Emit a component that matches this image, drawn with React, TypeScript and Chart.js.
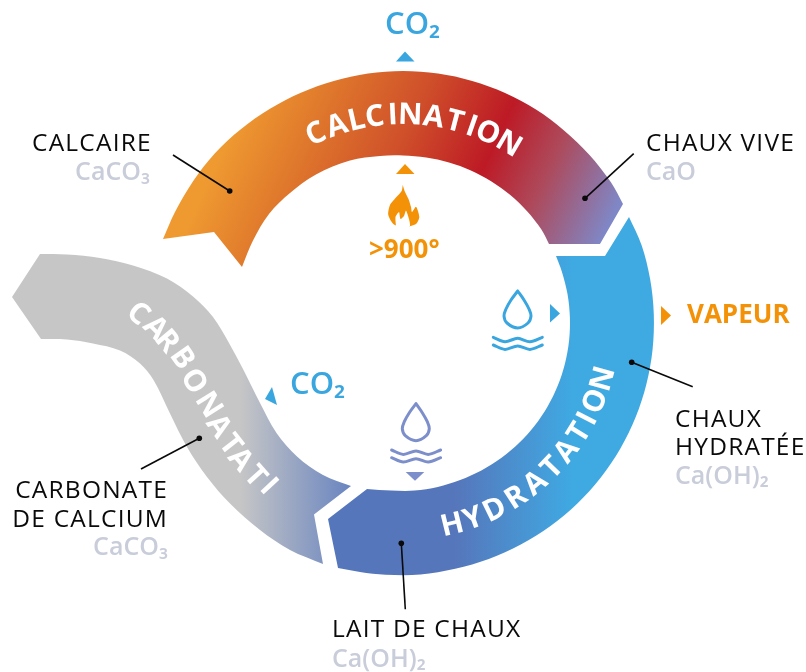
import React, { useEffect, useRef } from "react";
import { Chart, registerables } from "chart.js";

Chart.register(...registerables);

type P = [number, number];

// ---- Outline edges (shared end points keep the corners sharp)
const calcTail: P[] = [[163, 239], [214, 232]];
const calcNotch: P[] = [[214, 232], [242, 267]];
const calcInner: P[] = [[242, 267], [253, 240.5], [269, 214], [290, 193], [316, 174.5], [350, 160.5], [380, 156], [403, 155.5], [426.2, 157.6], [449, 162.5], [470.9, 170.4], [491.5, 181.4], [510.3, 195.1], [527.1, 211.3], [541.4, 229.6], [549, 244]];
const calcFoot: P[] = [[549, 244], [600, 244]];
const calcSide: P[] = [[600, 244], [623, 204]];
const calcOuter: P[] = [[623, 204], [611.1, 182.6], [589.5, 155.1], [564.3, 130.7], [536, 109.6], [505.1, 93], [472.2, 81], [438, 73.6], [403, 71], [368, 73.6], [333.8, 81], [300.9, 92.7], [270, 108.8], [240.5, 129.5], [214.7, 153.5], [192.9, 181.5], [175, 212], [163, 239]];

const hydrTip: P[] = [[629, 217], [605, 256]];
const hydrTop: P[] = [[605, 256], [556, 256]];
const hydrInner: P[] = [[556, 256], [561.8, 271.4], [567.5, 294], [569.9, 317.2], [569.1, 340.5], [565, 363.4], [557.8, 385.6], [547.6, 406.5], [534.6, 425.8], [519, 443.1], [501.2, 458.1], [481.4, 470.4], [460.1, 479.9], [437.7, 486.9], [414.6, 490.6], [391.4, 490.6], [367, 489]];
const hydrNotchA: P[] = [[367, 489], [328, 519]];
const hydrNotchB: P[] = [[328, 519], [338, 568]];
const hydrOuter: P[] = [[338, 568], [360, 572], [385.5, 574.8], [420.5, 574.6], [455.2, 568.8], [488.8, 559], [520.8, 544.6], [550.5, 526.1], [577.4, 503.5], [600.8, 477.5], [620.4, 448.5], [635.7, 417], [646.5, 383.7], [652.6, 349.2], [653.8, 314.2], [650.2, 279.4], [641.7, 245.4], [629, 217]];

const carbTailA: P[] = [[41, 339], [12, 297]];
const carbTailB: P[] = [[12, 297], [40, 254]];
const carbUpper: P[] = [[40, 254], [67, 254.5], [100, 258], [133, 265.5], [167, 278.5], [193, 296.5], [213, 317], [229, 343], [243.5, 370], [260, 403], [276.5, 433], [297, 456.5], [323, 475], [351, 486]];
const carbNotchA: P[] = [[351, 486], [314, 514.5]];
const carbNotchB: P[] = [[314, 514.5], [323, 564]];
const carbLower: P[] = [[323, 564], [290, 550], [260, 530], [230, 503.5], [207, 477], [187, 447], [170, 413.5], [153.5, 380], [140, 363.5], [120, 350.5], [93, 343.5], [67, 339.5], [41, 339]];

const flameOuter: P[] = [[402.7, 185], [405, 192], [408.5, 199], [411, 207], [412, 212], [416, 206.7], [419.3, 217], [416, 224], [405, 227], [394, 224.5], [388.3, 215], [390, 205], [396.7, 196.7], [401.7, 191], [402.7, 185]];
const flameInner: P[] = [[396, 226], [395.5, 217], [399, 212], [400.5, 219], [404, 216], [406, 210.5], [409, 219], [410, 226], [405, 229], [396, 226]];

const dropBlue: P[] = [[517.7, 291], [524, 300], [529, 309], [531, 316], [528, 323], [517.7, 328], [507, 323], [504, 316], [506, 309], [511, 300], [517.7, 291]];
const waveBlueA: P[] = [[493.3, 337.3], [505, 341.7], [517.7, 338.3], [530, 341.7], [542.3, 337.3]];
const waveBlueB: P[] = [[493.3, 345], [505, 349.4], [517.7, 346], [530, 349.4], [542.3, 345]];
const dropIndigo: P[] = [[416, 403.7], [422.3, 412.7], [427.3, 421.7], [429.3, 428.7], [426.3, 435.7], [416, 440.7], [405.3, 435.7], [402.3, 428.7], [404.3, 421.7], [409.3, 412.7], [416, 403.7]];
const waveIndigoA: P[] = [[391.6, 450], [403.3, 454.4], [416, 451], [428.3, 454.4], [440.6, 450]];
const waveIndigoB: P[] = [[391.6, 457.7], [403.3, 462.1], [416, 458.7], [428.3, 462.1], [440.6, 457.7]];

const triangles: { pts: P[]; color: string }[] = [
  { pts: [[396, 61.5], [405, 51.5], [414.5, 61.5], [396, 61.5]], color: "#3aa6df" },
  { pts: [[396, 174], [405, 164], [414.5, 174], [396, 174]], color: "#f39207" },
  { pts: [[550, 304], [560, 313.5], [550, 322.5], [550, 304]], color: "#3aa6df" },
  { pts: [[661, 306], [671, 315.5], [661, 325], [661, 306]], color: "#f39207" },
  { pts: [[272, 387], [265, 399], [277, 405], [272, 387]], color: "#3aa6df" },
  { pts: [[405.7, 472], [424.3, 472], [415, 480.7], [405.7, 472]], color: "#7d8fcb" },
];

const leaders: P[][] = [
  [[173, 155], [229.7, 191]],
  [[633.7, 153.7], [585, 198.3]],
  [[692.7, 386.7], [631.7, 362.3]],
  [[405.3, 609.3], [401.3, 543.3]],
  [[141, 469], [199.3, 438.3]],
];

// ---- Plain labels
const labelText = ["CALCAIRE", "CaCO₃", "CHAUX VIVE", "CaO", "CHAUX", "HYDRATÉE", "Ca(OH)₂", "LAIT DE CHAUX", "Ca(OH)₂", "CARBONATE", "DE CALCIUM", "CaCO₃"];
const labelX = [32, 150, 646, 646, 675, 675, 675, 332, 332, 168, 168, 168];
const labelY = [151, 180, 151, 180, 427, 455, 484, 637, 667, 498, 527, 555];
const labelAlign = ["left", "right", "left", "left", "left", "left", "left", "left", "left", "right", "right", "right"];
const labelGrey = [false, true, false, true, false, false, true, false, true, false, false, true];

const accentText = ["CO₂", "CO₂", "VAPEUR", ">900°"];
const accentX = [385, 290, 687, 369];
const accentY = [34, 394, 323, 258];
const accentSize = [31, 31, 26, 26];
const accentWeight = [600, 600, 700, 700];
const accentColor = ["#3aa6df", "#3aa6df", "#f39207", "#f39207"];

// ---- Words that follow the ring: angle clockwise from the top, for every letter
const calcWord = "CALCINATION";
const calcAngles = [-24.7, -18.5, -12.9, -7.8, -2.8, 2, 8.4, 14.4, 19.2, 24, 30.5];
const hydrWord = "HYDRATATION";
const hydrAngles = [166.3, 160.2, 153.8, 147, 140.3, 134, 127.9, 121.8, 117.3, 112, 105.5];
const carbWord = "CARBONATATI";
const carbX = [137.7, 155, 166.7, 181.7, 193.3, 208.3, 218.3, 230, 240, 255, 268.3];
const carbY = [314, 328.3, 341.7, 358.3, 381.7, 405, 426.7, 445, 460, 476.7, 486.7];
const carbRot = [42, 45, 50, 55, 58, 58, 55, 52, 50, 48, 47];

const ringCentre: P = [403, 323.5];
const ringRadius = 208;
const FONT = '"Open Sans"';

const xy = (pts: P[]) => pts.map(([x, y]) => ({ x, y }));

function gradient(stops: [number, string][], x0: number, y0: number, x1: number, y1: number) {
  return (c: any) => {
    const { ctx, width, height } = c.chart;
    const kx = width / 806;
    const ky = height / 672;
    const g = ctx.createLinearGradient(x0 * kx, y0 * ky, x1 * kx, y1 * ky);
    stops.forEach(([t, col]) => g.addColorStop(t, col));
    return g;
  };
}

const calcStops: [number, string][] = [[0, "#ef9a31"], [0.18, "#e07a2c"], [0.42, "#cf4f2a"], [0.64, "#bd1a25"], [0.8, "#ad4a5c"], [1, "#7f87c6"]];
const hydrStops: [number, string][] = [[0, "#5676bb"], [1, "#3fa9e2"]];
const carbStops: [number, string][] = [[0, "#c6c6c6"], [1, "#5d7cbf"]];

const shape = (pts: P[], backgroundColor: any, tension = 0.33) => ({
  data: xy(pts), showLine: true, fill: "shape" as const, backgroundColor, borderWidth: 0, pointRadius: 0, tension,
});
const stroke = (pts: P[], borderColor: string, tension = 0.33, borderWidth = 3) => ({
  data: xy(pts), showLine: true, fill: false, borderColor, borderWidth, pointRadius: 0, tension, borderCapStyle: "round" as const,
});

const textPlugin = {
  id: "cycleText",
  afterDraw(chart: any) {
    const { ctx, scales } = chart;
    const px = (v: number) => scales.x.getPixelForValue(v);
    const py = (v: number) => scales.y.getPixelForValue(v);
    ctx.save();
    ctx.textBaseline = "alphabetic";
    labelText.forEach((t, i) => {
      ctx.font = `${labelGrey[i] ? 600 : 400} ${labelGrey[i] ? 25 : 24.5}px ${FONT}`;
      ctx.letterSpacing = labelGrey[i] ? "0px" : "1.2px";
      ctx.fillStyle = labelGrey[i] ? "#c9cdda" : "#0a0a0a";
      ctx.textAlign = labelAlign[i];
      ctx.fillText(t, px(labelX[i]), py(labelY[i]));
    });
    ctx.letterSpacing = "0px";
    ctx.textAlign = "left";
    accentText.forEach((t, i) => {
      ctx.font = `${accentWeight[i]} ${accentSize[i]}px ${FONT}`;
      ctx.fillStyle = accentColor[i];
      ctx.fillText(t, px(accentX[i]), py(accentY[i]));
    });
    ctx.fillStyle = "#ffffff";
    ctx.font = `700 30px ${FONT}`;
    ctx.textAlign = "center";
    ctx.textBaseline = "middle";
    const letter = (ch: string, x: number, y: number, deg: number) => {
      ctx.save();
      ctx.translate(px(x), py(y));
      ctx.rotate((deg * Math.PI) / 180);
      ctx.fillText(ch, 0, 0);
      ctx.restore();
    };
    const onRing = (ch: string, a: number, flip: boolean) => {
      const r = (a * Math.PI) / 180;
      letter(ch, ringCentre[0] + ringRadius * Math.sin(r), ringCentre[1] - ringRadius * Math.cos(r), flip ? a - 180 : a);
    };
    [...calcWord].forEach((ch, i) => onRing(ch, calcAngles[i], false));
    [...hydrWord].forEach((ch, i) => onRing(ch, hydrAngles[i], true));
    [...carbWord].forEach((ch, i) => letter(ch, carbX[i], carbY[i], carbRot[i]));
    ctx.restore();
  },
};

export default function App() {
  const ref = useRef<HTMLCanvasElement>(null);
  useEffect(() => {
    const sets: any[] = [
      shape([...carbTailA, ...carbTailB, ...carbUpper, ...carbNotchA, ...carbNotchB, ...carbLower], gradient(carbStops, 240, 0, 365, 0)),
      shape([...hydrTip, ...hydrTop, ...hydrInner, ...hydrNotchA, ...hydrNotchB, ...hydrOuter], gradient(hydrStops, 455, 0, 572, 0)),
      shape([...calcTail, ...calcNotch, ...calcInner, ...calcFoot, ...calcSide, ...calcOuter], gradient(calcStops, 239, 111, 587, 272)),
      shape(flameOuter, "#f39207", 0.25),
      shape(flameInner, "#ffffff", 0.2),
      stroke(dropBlue, "#3aa6df"),
      stroke(waveBlueA, "#3aa6df"),
      stroke(waveBlueB, "#3aa6df"),
      stroke(dropIndigo, "#7d8fcb"),
      stroke(waveIndigoA, "#7d8fcb"),
      stroke(waveIndigoB, "#7d8fcb"),
      ...triangles.map((t) => shape(t.pts, t.color, 0)),
      ...leaders.map((l) => ({
        data: xy(l), showLine: true, fill: false, borderColor: "#0a0a0a", borderWidth: 1.6, tension: 0,
        pointRadius: [0, 2.8], pointBackgroundColor: "#0a0a0a", pointBorderWidth: 0,
      })),
    ];
    sets.forEach((s, i) => { s.order = -i; s.clip = false; });
    const chart = new Chart(ref.current!, {
      type: "scatter",
      data: { datasets: sets },
      options: {
        animation: false,
        responsive: false,
        events: [],
        layout: { padding: 0, autoPadding: false },
        elements: { line: { capBezierPoints: false } },
        plugins: { legend: { display: false }, tooltip: { enabled: false }, title: { display: false } },
        scales: {
          x: { type: "linear", min: 0, max: 806, display: false },
          y: { type: "linear", min: 0, max: 672, reverse: true, display: false },
        },
      },
      plugins: [textPlugin],
    } as any);
    return () => chart.destroy();
  }, []);
  return (
    <div style={{ position: "absolute", left: 0, top: 0, width: 806, height: 672 }}>
      <canvas ref={ref} width={806} height={672} style={{ display: "block" }} />
    </div>
  );
}
